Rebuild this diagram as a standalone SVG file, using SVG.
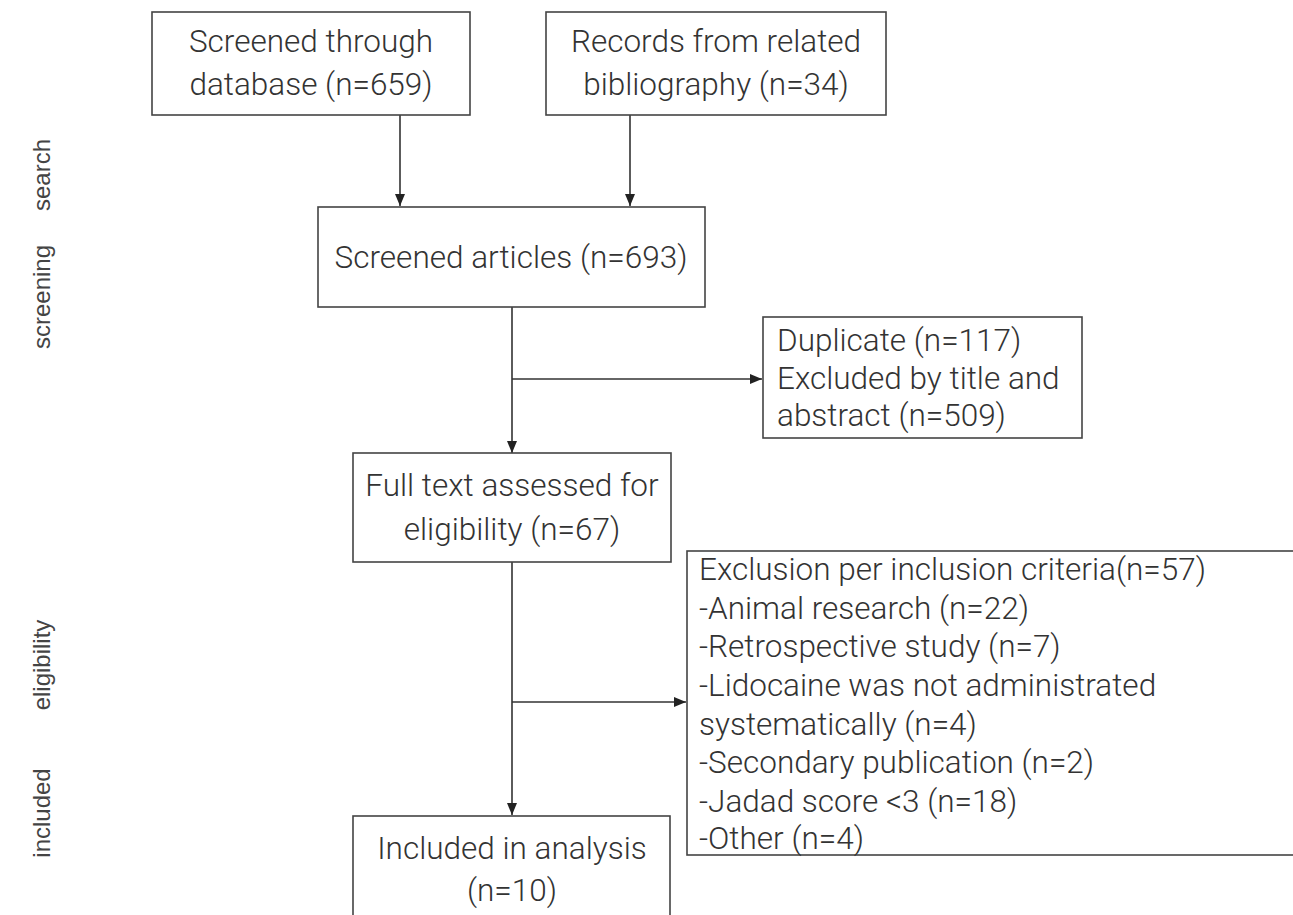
<svg xmlns="http://www.w3.org/2000/svg" width="1293" height="915" viewBox="0 0 1293 915">
<defs>
<marker id="ah" viewBox="0 0 12 10" refX="12" refY="5" markerWidth="12" markerHeight="10" markerUnits="userSpaceOnUse" orient="auto">
<path d="M0,0 L12,5 L0,10 Z" fill="#222"/>
</marker>
</defs>
<style>
.box{fill:#fff;stroke:#444;stroke-width:1.6}
.t{font-family:Roboto,"Noto Sans",sans-serif;font-size:31.5px;fill:#333;font-weight:300}
.c{text-anchor:middle}
.lab{font-family:"Liberation Sans",Arial,sans-serif;font-size:24px;fill:#444;text-anchor:middle}
.ln{fill:none;stroke:#333;stroke-width:1.6}
</style>
<rect width="1293" height="915" fill="#fff"/>
<g id="labels">
<text class="lab" transform="translate(50,175) rotate(-90)">search</text>
<text class="lab" transform="translate(50,297) rotate(-90)">screening</text>
<text class="lab" transform="translate(50,665) rotate(-90)">eligibility</text>
<text class="lab" transform="translate(50,813) rotate(-90)">included</text>
</g>
<g id="connectors">
<line class="ln" x1="400" y1="115" x2="400" y2="206" marker-end="url(#ah)"/>
<line class="ln" x1="630" y1="115" x2="630" y2="206" marker-end="url(#ah)"/>
<line class="ln" x1="512" y1="307" x2="512" y2="453" marker-end="url(#ah)"/>
<line class="ln" x1="512" y1="379" x2="762" y2="379" marker-end="url(#ah)"/>
<line class="ln" x1="512" y1="562" x2="512" y2="815" marker-end="url(#ah)"/>
<line class="ln" x1="512" y1="702" x2="686" y2="702" marker-end="url(#ah)"/>
</g>
<g id="n1">
<rect class="box" x="152" y="12" width="318" height="103"/>
<text class="t c" x="311" y="52">Screened through</text>
<text class="t c" x="311" y="95">database (n=659)</text>
</g>
<g id="n2">
<rect class="box" x="546" y="12" width="340" height="103"/>
<text class="t c" x="716" y="52">Records from related</text>
<text class="t c" x="716" y="95">bibliography (n=34)</text>
</g>
<g id="n3">
<rect class="box" x="318" y="207" width="387" height="100"/>
<text class="t c" x="511" y="268">Screened articles (n=693)</text>
</g>
<g id="n4">
<rect class="box" x="763" y="317" width="319" height="121"/>
<text class="t" x="777" y="351">Duplicate (n=117)</text>
<text class="t" x="777" y="389">Excluded by title and</text>
<text class="t" x="777" y="426">abstract (n=509)</text>
</g>
<g id="n5">
<rect class="box" x="353" y="453" width="318" height="109"/>
<text class="t c" x="512" y="496">Full text assessed for</text>
<text class="t c" x="512" y="540">eligibility (n=67)</text>
</g>
<g id="n6">
<rect class="box" x="687" y="551" width="610" height="304"/>
<text class="t" x="699" y="580">Exclusion per inclusion criteria(n=57)</text>
<text class="t" x="699" y="619">-Animal research (n=22)</text>
<text class="t" x="699" y="657">-Retrospective study (n=7)</text>
<text class="t" x="699" y="696">-Lidocaine was not administrated</text>
<text class="t" x="699" y="735">systematically (n=4)</text>
<text class="t" x="699" y="773">-Secondary publication (n=2)</text>
<text class="t" x="699" y="812">-Jadad score &lt;3 (n=18)</text>
<text class="t" x="699" y="849">-Other (n=4)</text>
</g>
<g id="n7">
<rect class="box" x="353" y="816" width="317" height="120"/>
<text class="t c" x="512" y="859">Included in analysis</text>
<text class="t c" x="512" y="901">(n=10)</text>
</g>
</svg>
